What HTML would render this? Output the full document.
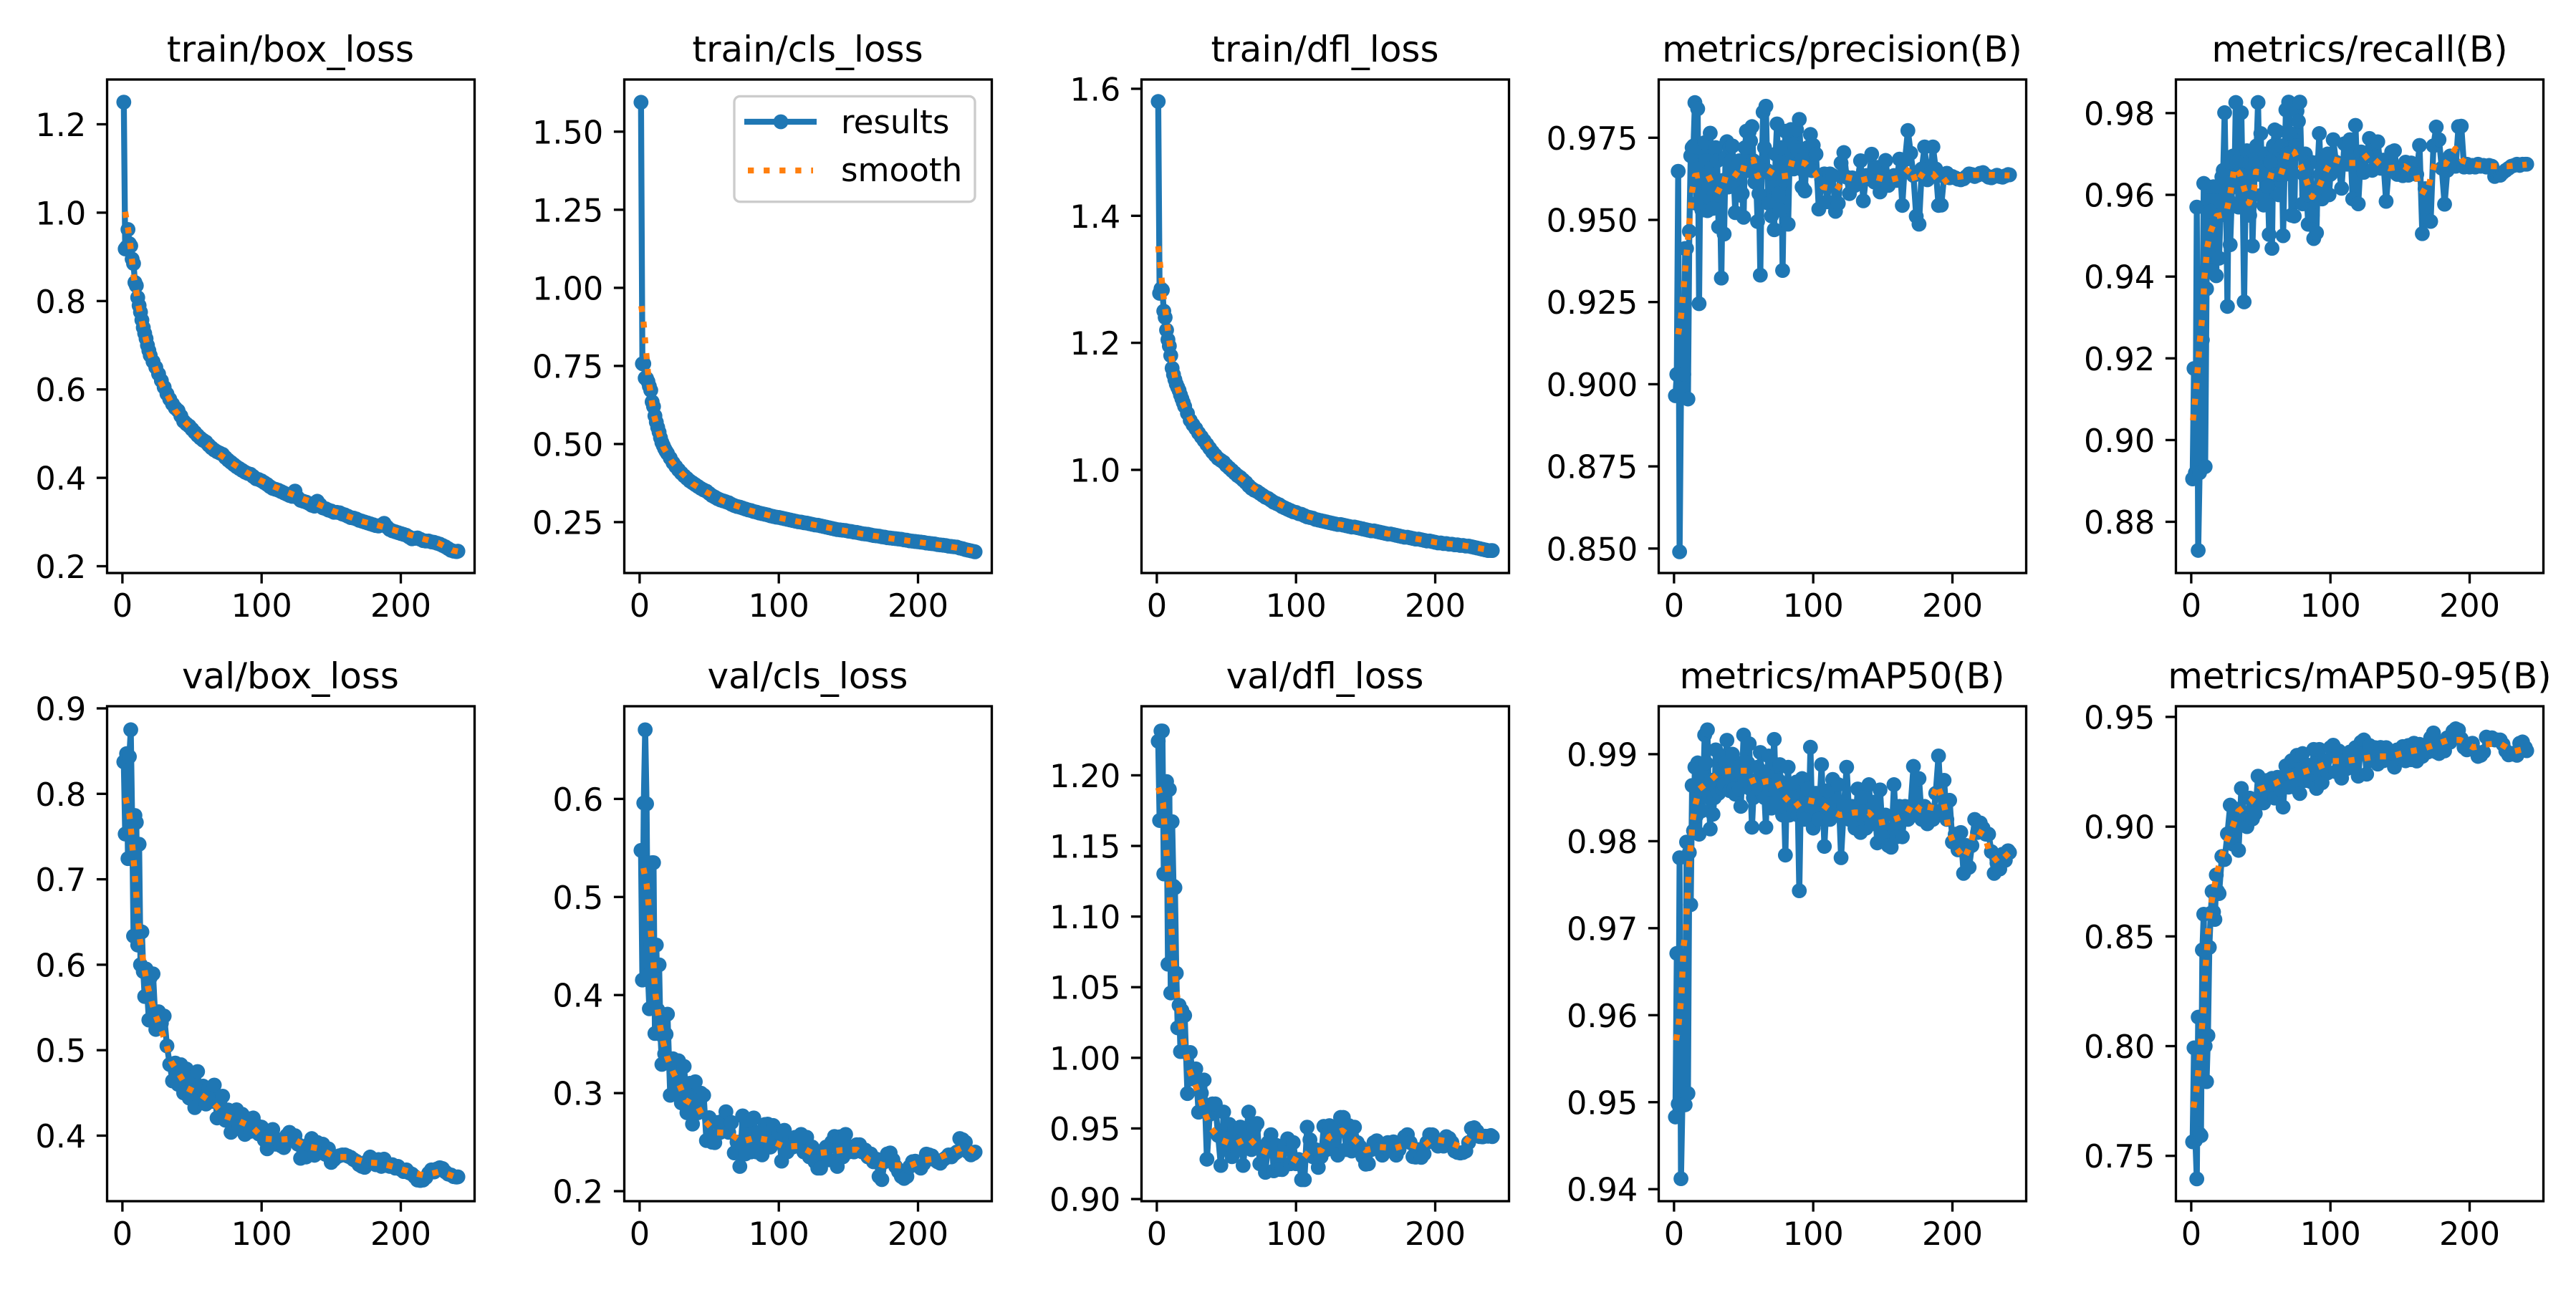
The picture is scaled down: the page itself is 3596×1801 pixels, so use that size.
<!DOCTYPE html>
<html lang="en">
<head>
<meta charset="utf-8">
<title>Training results</title>
<style>
html,body{margin:0;padding:0;background:#fff;width:3596px;height:1801px;overflow:hidden}
svg{display:block}
text{font-family:"DejaVu Sans","Liberation Sans",sans-serif;fill:#000}
.title{font-size:50px;text-anchor:middle}
.tick{font-size:44.6px}
.legend-label{font-size:45.2px}
</style>
</head>
<body>
<svg id="chart" xmlns="http://www.w3.org/2000/svg" width="3596" height="1801" viewBox="0 0 3596 1801">
<rect width="3596" height="1801" fill="#fff"/>
<g>
<text class="title" x="405.5" y="86">train/box_loss</text>
<text class="title" x="1127.5" y="86">train/cls_loss</text>
<text class="title" x="1849.5" y="86">train/dfl_loss</text>
<text class="title" x="2571.5" y="86">metrics/precision(B)</text>
<text class="title" x="3294" y="86">metrics/recall(B)</text>
<text class="title" x="405.5" y="961">val/box_loss</text>
<text class="title" x="1127.5" y="961">val/cls_loss</text>
<text class="title" x="1849.5" y="961">val/dfl_loss</text>
<text class="title" x="2571.5" y="961">metrics/mAP50(B)</text>
<text class="title" x="3294" y="961">metrics/mAP50-95(B)</text>
</g>
<g id="panels"></g>
<g>
<rect x="1025" y="134.4" width="336" height="147.3" rx="8" fill="#fff" fill-opacity="0.8" stroke="#cccccc" stroke-width="3.33"/>
<g>
<line x1="1039" y1="170" x2="1140" y2="170" stroke="#1f77b4" stroke-width="8.33"/>
<circle cx="1090" cy="170" r="10.4" fill="#1f77b4"/>
<text class="legend-label" x="1174" y="186">results</text>
</g>
<g>
<line x1="1044" y1="238" x2="1135" y2="238" stroke="#ff7f0e" stroke-width="8.33" stroke-dasharray="8.33 13.75"/>
<text class="legend-label" x="1174" y="253">smooth</text>
</g>
</g>
</svg>
<script>
// ---- shared epochs ----
const denseEpochs = [1,2,3,4,5,6,7,8,9,10,11,12,13,14,15,16,17,18,19,20,
22,24,26,28,30,32,34,36,38,40,
42,44,46,48,50,52,54,56,58,60,
62,64,66,68,70,72,74,76,78,80,
82,84,86,88,90,92,94,96,98,100,
102,104,106,108,110,112,114,116,118,120,
122,124,126,128,130,132,134,136,138,140,
142,144,146,148,150,152,154,156,158,160,
162,164,166,168,170,172,174,176,178,180,
182,184,186,188,190,192,194,196,198,200,
202,204,206,208,210,212,214,216,218,220,
222,224,226,228,230,232,234,236,238,240,241];
const fineEpochs = [1,2,3,4,5,6,7,8,9,10,11,12,13,14,15,16,17,18,19,20,
21,22,23,24,25,26,27,28,29,30,31,32,33,34,35,36,37,38,39,40,
41,42,43,44,45,46,47,48,49,50,51,52,53,54,55,56,57,58,59,60,
61,62,63,64,65,66,67,68,69,70,71,72,73,74,75,76,77,78,79,80,
81,82,83,84,85,86,87,88,89,90,91,92,93,94,95,96,97,98,99,100,
102,104,106,108,110,112,114,116,118,120,
122,124,126,128,130,132,134,136,138,140,
142,144,146,148,150,152,154,156,158,160,
162,164,166,168,170,172,174,176,178,180,
182,184,186,188,190,192,194,196,198,200,
202,204,206,208,210,212,214,216,218,220,
222,224,226,228,230,232,234,236,238,240,241];
const xDomain = [-11,253];
const xTickLabels = ['0','100','200'];

// ---- train/box_loss ----
const trainBoxResults = [1.25,.918,.922,.962,.93,.925,.895,.885,.842,.835,.808,.79,.775,.757,.74,.727,.715,.70,.688,.677,
.663,.65,.635,.62,.605,.59,.578,.567,.558,.552,
.54,.528,.522,.517,.51,.503,.496,.49,.485,.481,
.474,.468,.463,.459,.456,.453,.446,.44,.435,.43,
.425,.421,.417,.413,.41,.408,.403,.398,.396,.393,
.389,.385,.38,.376,.374,.372,.369,.366,.363,.36,
.358,.37,.355,.349,.347,.345,.342,.338,.336,.347,
.339,.332,.33,.327,.325,.322,.322,.321,.318,.316,
.313,.31,.309,.307,.304,.302,.3,.298,.296,.294,
.292,.291,.293,.297,.289,.283,.28,.278,.276,.274,
.272,.27,.266,.262,.263,.264,.261,.258,.257,.257,
.255,.254,.252,.25,.247,.244,.24,.236,.234,.233,.234];
const trainBoxSmoothEpochs = [2,4,5.5,6.8,7.8,9.8,11.4,14,16.3,19.3,23.2,27,32.7,37.7,44.6,52.8,61,69.8,79,88.9,98.7,109,119,129.6,140,151,161.7,172,183,194,204,216,226.7,237,241];
const trainBoxSmooth = [1.002,.965,.932,.895,.862,.825,.791,.753,.721,.684,.653,.619,.585,.553,.527,.5,.476,.453,.4326,.413,.395,.38,.367,.3526,.341,.3256,.3135,.3014,.293,.283,.2735,.262,.253,.236,.2335];
const trainBoxDomain = [.1846,1.3013];
const trainBoxTickLabels = ['0.2','0.4','0.6','0.8','1.0','1.2'];

// ---- train/cls_loss ----
const trainClsResults = [1.594,.757,.757,.711,.71,.70,.685,.672,.635,.62,.59,.57,.553,.538,.52,.505,.495,.485,.477,.47,
.455,.44,.428,.417,.407,.398,.39,.382,.376,.37,
.364,.358,.353,.349,.342,.335,.33,.325,.321,.318,
.315,.312,.307,.303,.3,.298,.295,.292,.289,.287,
.284,.282,.279,.277,.275,.273,.27,.268,.266,.265,
.263,.261,.259,.257,.255,.253,.251,.25,.248,.247,
.245,.243,.241,.24,.238,.236,.234,.232,.23,.228,
.226,.225,.224,.223,.221,.22,.218,.217,.215,.213,
.212,.211,.209,.207,.206,.205,.203,.202,.2,.199,
.198,.197,.196,.195,.193,.192,.19,.189,.188,.187,
.186,.185,.183,.182,.181,.18,.178,.177,.176,.175,
.173,.172,.171,.17,.167,.165,.162,.16,.158,.156,.155];
const trainClsSmoothEpochs = [1.2,2.8,3.8,4.8,5.8,7,8.7,10.4,13.6,16.9,23,30,38,48,60,80,100,120,140,160,180,200,220,241];
const trainClsSmooth = [.9417,.8916,.84,.79,.74,.689,.639,.59,.54,.491,.445,.408,.3725,.346,.317,.286,.264,.246,.228,.212,.198,.186,.174,.157];
const trainClsDomain = [.087,1.667];
const trainClsTickLabels = ['0.25','0.50','0.75','1.00','1.25','1.50'];

// ---- train/dfl_loss ----
const trainDflResults = [1.58,1.278,1.285,1.283,1.25,1.24,1.22,1.205,1.195,1.18,1.16,1.15,1.142,1.135,1.13,1.125,1.118,1.112,1.106,1.10,
1.089,1.078,1.071,1.065,1.058,1.052,1.046,1.04,1.034,1.028,
1.023,1.018,1.015,1.012,1.007,1.003,.999,.995,.991,.988,
.984,.98,.975,.971,.968,.966,.963,.96,.957,.955,
.952,.949,.947,.945,.942,.94,.938,.936,.934,.933,
.931,.93,.928,.926,.925,.924,.922,.921,.92,.919,
.918,.917,.916,.915,.914,.914,.913,.912,.911,.91,
.91,.909,.908,.907,.906,.905,.904,.904,.903,.902,
.901,.9,.899,.899,.898,.897,.896,.895,.894,.894,
.893,.892,.891,.891,.89,.889,.888,.888,.887,.886,
.885,.885,.884,.884,.883,.883,.882,.882,.881,.881,
.88,.88,.879,.878,.877,.876,.875,.874,.873,.873,.873];
const trainDflSmoothEpochs = [1,3,5,8,11,14,18,24,30,40,50,60,80,100,120,150,180,200,220,241];
const trainDflSmooth = [1.352,1.31,1.27,1.22,1.17,1.135,1.108,1.08,1.06,1.028,1.006,.988,.955,.933,.919,.906,.894,.886,.881,.873];
const trainDflDomain = [.8376,1.6146];
const trainDflTickLabels = ['1.0','1.2','1.4','1.6'];

// ---- metrics/precision(B) ----
const precisionResults = [.8965,.903,.9648,.849,.8975,.9005,.903,.9413,.9413,.8955,.9465,.9695,.972,.9725,.9857,.955,.9838,.9245,.972,.953,
.962,.9735,.968,.9528,.96,.9764,.966,.9535,.958,.972,.968,.9479,.9575,.9323,.962,.9457,.969,.9738,.96,.972,
.968,.9725,.962,.9522,.964,.965,.968,.9575,.958,.9508,.972,.977,.965,.9768,.974,.9784,.968,.9615,.962,.9495,
.958,.9332,.965,.9828,.972,.9846,.965,.955,.964,.9512,.96,.947,.97,.9792,.958,.953,.972,.9346,.962,.977,
.965,.9487,.968,.9775,.97,.9655,.972,.9775,.971,.9806,.968,.96,.965,.9588,.968,.972,.97,.976,.965,.9727,
.970,.9533,.9625,.964,.9555,.964,.9635,.9526,.955,.9673,
.9705,.963,.958,.9628,.9605,.9625,.968,.9558,.9635,.9625,
.970,.9615,.966,.9585,.9625,.9681,.9605,.9625,.9635,.962,
.9685,.9544,.9683,.9772,.9703,.9635,.9511,.9487,.9655,.9722,
.9622,.964,.9722,.9655,.9544,.9545,.9632,.9642,.9628,.9632,
.9628,.9624,.9622,.9625,.9632,.964,.9638,.9632,.9636,.9642,
.9644,.9636,.963,.9628,.9632,.9636,.9632,.963,.9634,.9638,.9637];
const precisionSmoothEpochs = [3,5,6,7,8,9,10,11,12,13,15,24,29,34,37,42,48,51,57,60,67,75,82,85,94,101,107,117,123,134,144,154,164,170,174,179,186,192,198,206,216,228,241];
const precisionSmooth = [.9152,.9204,.925,.9299,.9347,.9395,.9443,.9491,.9539,.9588,.9634,.964,.9596,.9585,.9631,.9646,.9628,.9674,.9683,.9633,.9653,.9631,.9635,.9681,.9672,.9644,.96,.9593,.9631,.962,.9631,.962,.9631,.9661,.9611,.9644,.964,.9609,.9628,.9632,.9637,.9637,.9635];
const precisionDomain = [.84255,.99272];
const precisionTickLabels = ['0.850','0.875','0.900','0.925','0.950','0.975'];

// ---- metrics/recall(B) ----
const recallResults = [.8905,.9175,.892,.957,.873,.892,.9405,.9245,.9628,.8935,.937,.962,.9505,.956,.9415,.962,.948,.9402,.962,.9445,
.955,.9644,.966,.9801,.96,.9327,.968,.9478,.958,.9695,.962,.9826,.968,.957,.965,.9801,.96,.9338,.958,.9708,
.962,.955,.968,.9475,.96,.9685,.972,.9826,.965,.975,.96,.9575,.97,.966,.962,.9503,.968,.9469,.972,.9759,
.965,.9755,.96,.965,.972,.95,.965,.9808,.97,.9827,.975,.955,.97,.9548,.972,.9805,.978,.9827,.97,.9578,
.965,.97,.96,.9528,.962,.968,.955,.9493,.96,.9507,.968,.975,.965,.959,.968,.9616,.965,.97,.96,.965,
.9735,.968,.9665,.9616,.9725,.9675,.9735,.959,.977,.9578,
.9705,.9655,.9695,.9738,.966,.9725,.973,.9665,.9685,.9584,
.9668,.9705,.9708,.965,.9665,.9647,.968,.9648,.9678,.9655,
.965,.9721,.9505,.9615,.9537,.9535,.972,.9766,.9735,.9665,
.9577,.966,.9695,.968,.967,.9767,.9768,.9668,.9675,.9668,
.9672,.9668,.9675,.967,.9672,.9668,.9672,.967,.9645,.9648,
.9648,.9655,.966,.9665,.967,.9672,.9675,.9672,.9675,.9675,.9675];
const recallSmoothEpochs = [1.2,2.4,3.6,4.4,5.3,6.1,7.3,8.5,9,9.3,10.5,11.5,13.9,18.3,24.9,27.4,29.3,31,35,38.2,41.6,45.3,46.5,51.9,58,63.6,66.8,69.7,73.9,78.8,82.7,86.9,91.8,96.7,101.6,110.6,119.9,127.8,135.4,142,153,161.5,164,169.4,172,175,182.8,189.7,195,205.6,216.6,227.2,241];
const recallSmooth = [.9048,.9086,.9125,.9165,.9202,.924,.928,.932,.936,.9394,.9433,.9472,.951,.9548,.9553,.9591,.963,.9668,.965,.9613,.958,.9615,.9657,.9653,.9646,.9642,.9674,.9713,.9705,.967,.9635,.9595,.962,.9658,.9688,.9678,.9678,.970,.9675,.9665,.967,.9652,.9613,.9603,.9642,.9678,.9676,.9713,.9683,.9673,.967,.967,.9674];
const recallDomain = [.86747,.98822];
const recallTickLabels = ['0.88','0.90','0.92','0.94','0.96','0.98'];

// ---- val/box_loss ----
const valBoxResults = [.8374,.753,.847,.7242,.8435,.875,.7675,.6336,.7747,.7666,.623,.741,.6,.6384,.592,.5628,.595,.5625,.5353,.585,
.5893,.5243,.545,.5315,.54,.505,.4833,.464,.485,.46,
.483,.45,.478,.444,.47,.4328,.475,.44,.458,.437,
.455,.44,.4592,.4207,.44,.4462,.418,.43,.4039,.42,
.4303,.41,.425,.4014,.42,.405,.4207,.4125,.402,.41,
.395,.3846,.40,.4072,.39,.395,.388,.386,.40,.4039,
.395,.40,.39,.3735,.385,.375,.39,.3966,.377,.392,
.38,.39,.378,.3846,.3687,.372,.375,.3765,.3775,.3774,
.376,.3745,.372,.37,.366,.364,.3629,.37,.375,.372,
.366,.372,.364,.3725,.365,.364,.366,.362,.364,.3605,
.358,.36,.3565,.355,.352,.348,.3475,.348,.351,.356,
.36,.3575,.361,.3625,.3615,.3575,.355,.354,.352,.3515,.3518];
const valBoxSmoothEpochs = [2.2,4.9,6.1,7.1,8.1,9,9.8,10.6,11.5,12.5,14.3,16,18.2,20.9,24.1,28.3,31.8,35,41,46.8,57,66.2,73.6,83.5,93.3,101.4,112,122.4,131.5,142,152.7,163,174.9,185.2,196.3,207.4,217,228.3,238.9,241];
const valBoxSmooth = [.7955,.777,.7594,.7396,.7218,.7035,.6856,.6664,.648,.6303,.612,.5927,.5749,.557,.5397,.5219,.505,.4867,.4713,.4554,.4472,.4366,.4231,.4173,.4101,.3966,.3952,.3966,.388,.3846,.375,.375,.3687,.3677,.3629,.3571,.3533,.3581,.3518,.3515];
const valBoxDomain = [.3233,.9025];
const valBoxTickLabels = ['0.4','0.5','0.6','0.7','0.8','0.9'];

// ---- val/cls_loss ----
const valClsResults = [.5475,.4153,.5958,.6705,.595,.42,.386,.451,.535,.535,.3608,.451,.385,.4308,.36,.3293,.38,.34,.36,.3805,
.2978,.335,.3,.333,.29,.3272,.28,.31,.2684,.3116,
.28,.3,.2978,.2516,.275,.25,.2495,.27,.26,.272,
.281,.26,.27,.239,.25,.2252,.2768,.238,.272,.24,
.2747,.24,.26,.237,.268,.2684,.245,.267,.25,.26,
.2306,.2621,.24,.25,.245,.255,.25,.2579,.24,.255,
.235,.245,.23,.2235,.2235,.24,.245,.232,.25,.2558,
.2252,.2555,.235,.2579,.24,.245,.24,.2474,.2474,.24,
.242,.235,.238,.23,.2327,.215,.2118,.23,.238,.239,
.232,.225,.22,.215,.213,.215,.225,.23,.2306,.228,
.2235,.228,.2378,.237,.236,.232,.23,.2285,.232,.234,
.237,.235,.238,.24,.2537,.2525,.25,.24,.237,.2385,.2399];
const valClsSmoothEpochs = [2.7,5,6.1,7.3,8,9.1,10,10.5,11.4,13,14.8,16.7,19.7,23.8,28.9,33,42.2,47.2,54.4,64.5,73.2,83.1,94.4,103.8,114.6,124.9,135.3,145.6,156,164.7,175,184,193.4,203.5,214.5,224.9,234,241];
const valClsSmooth = [.5295,.5131,.4972,.4812,.4648,.4497,.4329,.4174,.4006,.3847,.3683,.3532,.3368,.3221,.3074,.2928,.2852,.2714,.26,.2592,.2504,.2546,.2516,.2453,.2462,.2382,.2399,.242,.2424,.2319,.2264,.2264,.2256,.2315,.2336,.2399,.2462,.24];
const valClsDomain = [.1898,.6945];
const valClsTickLabels = ['0.2','0.3','0.4','0.5','0.6'];

// ---- val/dfl_loss ----
const valDflResults = [1.2241,1.168,1.2314,1.2314,1.1302,1.168,1.1956,1.0663,1.19,1.0459,1.1672,1.1215,1.1205,1.0599,1.0212,1.0372,1.0044,1.0335,1.0045,1.03,
.9747,1.0038,.985,.9922,.9615,.975,.9843,.9282,.96,.9674,
.9674,.945,.9238,.9616,.935,.9529,.93,.95,.935,.951,
.9238,.945,.9616,.935,.95,.9535,.925,.935,.9189,.94,
.9456,.92,.938,.921,.9209,.938,.9427,.925,.94,.925,
.928,.9137,.9137,.9509,.942,.93,.935,.9224,.93,.9515,
.935,.952,.94,.95,.9311,.9578,.9578,.935,.952,.934,
.9509,.94,.937,.93,.9247,.925,.935,.94,.9413,.935,
.9311,.937,.94,.935,.9405,.9311,.935,.94,.944,.9456,
.94,.93,.9297,.935,.9295,.932,.94,.9456,.9455,.94,
.9375,.94,.9375,.9442,.943,.94,.934,.933,.9326,.933,
.934,.94,.95,.9505,.948,.9442,.944,.9445,.9445,.945,.9442];
const valDflSmoothEpochs = [1,4.5,5.2,5.9,6.8,7.7,8.6,9.3,9.8,10.5,11.4,12.3,13.2,14.2,16,17.1,19,21,23.3,27.5,31.4,35,39,46.3,55.5,65.9,73.5,82,93.4,102.6,109,118.3,124,133.2,141.2,150,159.6,171,180.8,190,198,209.5,219.4,225.8,236.6,241];
const valDflSmooth = [1.1913,1.1802,1.1689,1.1578,1.1468,1.1355,1.1244,1.1134,1.102,1.091,1.0799,1.0686,1.0576,1.0465,1.0352,1.0241,1.0131,1.0029,.9916,.9811,.9703,.9596,.95,.9419,.9384,.9436,.9355,.932,.9311,.9259,.9334,.9346,.9442,.9485,.9427,.9346,.9369,.936,.939,.936,.9427,.9407,.9363,.9456,.9442,.9443];
const valDflDomain = [.8985,1.2489];
const valDflTickLabels = ['0.90','0.95','1.00','1.05','1.10','1.15','1.20'];

// ---- metrics/mAP50(B) ----
const map50Results = [.9483,.9671,.9498,.9781,.9412,.9497,.9661,.9497,.9799,.951,.9787,.9727,.9864,.9812,.9885,.9829,.989,.9808,.9878,.9835,
.986,.9922,.989,.9928,.985,.9814,.987,.9831,.985,.9905,.986,.9855,.988,.9898,.986,.9865,.989,.9916,.988,.9858,
.988,.99,.986,.9854,.989,.9885,.986,.984,.988,.9922,.987,.9885,.989,.9912,.986,.9816,.985,.9865,.987,.9885,
.986,.9902,.987,.9852,.985,.9816,.988,.9898,.986,.9838,.989,.9917,.986,.9845,.987,.9888,.985,.983,.984,.9784,
.986,.9885,.983,.9845,.985,.9835,.984,.9868,.983,.9743,.984,.9872,.983,.9825,.985,.986,.984,.9908,.984,.9815,
.9855,.9825,.9888,.9794,.9858,.9825,.9871,.9835,.9865,.9781,
.984,.9885,.9825,.984,.9815,.986,.981,.985,.9815,.9865,
.982,.9845,.9798,.9859,.9805,.983,.9795,.9793,.9865,.9805,
.984,.9805,.984,.9825,.984,.9886,.983,.9872,.9825,.984,
.982,.983,.9825,.9855,.9898,.9835,.987,.9825,.9847,.9799,
.9808,.979,.981,.9763,.9795,.977,.9795,.9825,.981,.9821,
.9815,.9808,.9808,.9788,.9763,.9775,.9768,.9785,.9778,.9789,.9787];
const map50SmoothEpochs = [1.5,3.2,4.4,5.4,5.9,6.4,6.9,8.4,8.9,9.6,10.1,10.8,11.6,12.6,13.3,15.3,18.2,25.4,32.3,40.4,47.8,53.7,57.6,66.3,74.1,79,86.4,93.8,105,111.8,119.2,129.6,139.9,146.8,156.6,166.5,171.4,177.1,183.7,186.2,189.2,193,195.6,197.3,201.5,208.4,212.8,215.8,223.1,226.3,233,241];
const map50Smooth = [.9571,.9588,.9606,.9625,.9643,.9661,.9679,.9697,.9715,.9733,.9751,.977,.9788,.9806,.9823,.9842,.986,.9869,.9879,.9881,.9881,.9881,.9865,.9869,.9869,.9852,.9839,.9848,.9844,.9836,.983,.9833,.9833,.9821,.9824,.983,.9844,.9836,.9834,.9853,.9865,.9848,.983,.9812,.9795,.978,.9795,.9814,.9807,.9789,.9775,.9787];
const map50Domain = [.93862,.99551];
const map50TickLabels = ['0.94','0.95','0.96','0.97','0.98','0.99'];

// ---- metrics/mAP50-95(B) ----
const map5095Results = [.7564,.7992,.757,.7395,.8132,.76,.7592,.8438,.8601,.8,.7838,.8048,.845,.8605,.8705,.8611,.8577,.878,.8705,.8695,
.8864,.885,.8967,.9098,.892,.908,.8892,.9174,.903,.90,
.913,.9035,.906,.923,.912,.9108,.921,.915,.922,.913,
.9225,.917,.9089,.9277,.918,.93,.918,.9325,.9151,.9333,
.921,.928,.9205,.9352,.9174,.9352,.92,.93,.9245,.936,
.9371,.925,.9345,.9221,.93,.9265,.934,.928,.936,.923,
.9385,.9395,.9239,.937,.93,.936,.9285,.9361,.93,.936,
.931,.9335,.9271,.935,.931,.9365,.93,.937,.9305,.938,
.9299,.9375,.932,.937,.934,.9405,.9427,.934,.9333,.938,
.9345,.9405,.9385,.9435,.9446,.944,.94,.9361,.935,.9365,
.938,.9345,.932,.9325,.934,.9408,.94,.9405,.9395,.9395,
.9395,.9375,.9345,.9327,.933,.9335,.9325,.938,.9386,.936,.9346];
const map5095SmoothEpochs = [1.6,3.6,4.8,6,6.8,7.7,8.7,9.2,9.7,10.4,11.4,12.1,12.9,14.6,16.6,18.8,22,25.6,30,33.7,42.8,48.9,59.9,70.2,80.7,91,101.5,111.3,122.3,132.8,143.9,154.1,165.2,175.4,184.7,193.3,202.6,211.6,221.5,231.3,241];
const map5095Smooth = [.772,.7795,.7866,.7939,.801,.8085,.8155,.8226,.8301,.8371,.8442,.8513,.8588,.8658,.8727,.8798,.8868,.8937,.9005,.907,.9114,.917,.9196,.923,.9249,.9271,.9299,.9299,.9309,.932,.932,.9339,.9352,.9374,.9395,.9395,.9361,.9374,.938,.9342,.9357];
const map5095Domain = [.72934,.95486];
const map5095TickLabels = ['0.75','0.80','0.85','0.90','0.95'];

// ---- layout ----
const SVG_NS = 'http://www.w3.org/2000/svg';
const columnLefts = [149.5,871.5,1593.5,2315.5,3037.5];
const rowTops = [111,986];
const rowHeights = [689,691];
const axesWidth = 513;
const COLOR_RESULTS = '#1f77b4';
const COLOR_SMOOTH = '#ff7f0e';

const panels = [
  {name:'train-box-loss',col:0,row:0,epochs:denseEpochs,results:trainBoxResults,smoothEpochs:trainBoxSmoothEpochs,smooth:trainBoxSmooth,domain:trainBoxDomain,ticks:trainBoxTickLabels},
  {name:'train-cls-loss',col:1,row:0,epochs:denseEpochs,results:trainClsResults,smoothEpochs:trainClsSmoothEpochs,smooth:trainClsSmooth,domain:trainClsDomain,ticks:trainClsTickLabels},
  {name:'train-dfl-loss',col:2,row:0,epochs:denseEpochs,results:trainDflResults,smoothEpochs:trainDflSmoothEpochs,smooth:trainDflSmooth,domain:trainDflDomain,ticks:trainDflTickLabels},
  {name:'precision',col:3,row:0,epochs:fineEpochs,results:precisionResults,smoothEpochs:precisionSmoothEpochs,smooth:precisionSmooth,domain:precisionDomain,ticks:precisionTickLabels},
  {name:'recall',col:4,row:0,epochs:fineEpochs,results:recallResults,smoothEpochs:recallSmoothEpochs,smooth:recallSmooth,domain:recallDomain,ticks:recallTickLabels},
  {name:'val-box-loss',col:0,row:1,epochs:denseEpochs,results:valBoxResults,smoothEpochs:valBoxSmoothEpochs,smooth:valBoxSmooth,domain:valBoxDomain,ticks:valBoxTickLabels},
  {name:'val-cls-loss',col:1,row:1,epochs:denseEpochs,results:valClsResults,smoothEpochs:valClsSmoothEpochs,smooth:valClsSmooth,domain:valClsDomain,ticks:valClsTickLabels},
  {name:'val-dfl-loss',col:2,row:1,epochs:denseEpochs,results:valDflResults,smoothEpochs:valDflSmoothEpochs,smooth:valDflSmooth,domain:valDflDomain,ticks:valDflTickLabels},
  {name:'map50',col:3,row:1,epochs:fineEpochs,results:map50Results,smoothEpochs:map50SmoothEpochs,smooth:map50Smooth,domain:map50Domain,ticks:map50TickLabels},
  {name:'map50-95',col:4,row:1,epochs:denseEpochs,results:map5095Results,smoothEpochs:map5095SmoothEpochs,smooth:map5095Smooth,domain:map5095Domain,ticks:map5095TickLabels}
];

function make(tag, attrs, parent){
  const el = document.createElementNS(SVG_NS, tag);
  for (const k in attrs) el.setAttribute(k, attrs[k]);
  parent.appendChild(el);
  return el;
}

function drawPanel(p, root){
  const left = columnLefts[p.col];
  const top = rowTops[p.row];
  const h = rowHeights[p.row];
  const bottom = top + h;
  const xScale = function(v){ return left + (v - xDomain[0]) / (xDomain[1] - xDomain[0]) * axesWidth; };
  const yScale = function(v){ return bottom - (v - p.domain[0]) / (p.domain[1] - p.domain[0]) * h; };

  const g = make('g', {}, root);
  
  

  // results line
  const pts = p.results.map(function(v, i){ return xScale(p.epochs[i]).toFixed(2) + ',' + yScale(v).toFixed(2); }).join(' ');
  const line = make('polyline', {points: pts, fill: 'none', stroke: COLOR_RESULTS, 'stroke-width': 8.33, 'stroke-linejoin': 'round', 'stroke-linecap': 'square'}, g);
  
  

  // results markers
  p.results.forEach(function(v, i){
    const c = make('circle', {cx: xScale(p.epochs[i]).toFixed(2), cy: yScale(v).toFixed(2), r: 10.4, fill: COLOR_RESULTS}, g);
    
    
  });

  // smooth line
  const spts = p.smooth.map(function(v, i){ return xScale(p.smoothEpochs[i]).toFixed(2) + ',' + yScale(v).toFixed(2); }).join(' ');
  const sm = make('polyline', {points: spts, fill: 'none', stroke: COLOR_SMOOTH, 'stroke-width': 8.33, 'stroke-dasharray': '8.33 13.75', 'stroke-linejoin': 'round'}, g);
  
  

  // frame
  const frame = make('rect', {x: left, y: top, width: axesWidth, height: h, fill: 'none', stroke: '#000', 'stroke-width': 3.33}, g);
  
  

  // x ticks
  xTickLabels.forEach(function(label){
    const x = xScale(Number(label));
    const t = make('line', {x1: x, x2: x, y1: bottom, y2: bottom + 14.6, stroke: '#000', 'stroke-width': 3.33}, g);
    
    
    const txt = make('text', {x: x, y: bottom + 61, 'text-anchor': 'middle', 'class': 'tick'}, g);
    
    
    txt.textContent = label;
  });

  // y ticks
  p.ticks.forEach(function(label){
    const y = yScale(Number(label));
    const t = make('line', {x1: left - 14.6, x2: left, y1: y, y2: y, stroke: '#000', 'stroke-width': 3.33}, g);
    
    
    const txt = make('text', {x: left - 29.2, y: y + 16.5, 'text-anchor': 'end', 'class': 'tick'}, g);
    
    
    txt.textContent = label;
  });
}

const panelsRoot = document.getElementById('panels');
panels.forEach(function(p){ drawPanel(p, panelsRoot); });
</script>
</body>
</html>
